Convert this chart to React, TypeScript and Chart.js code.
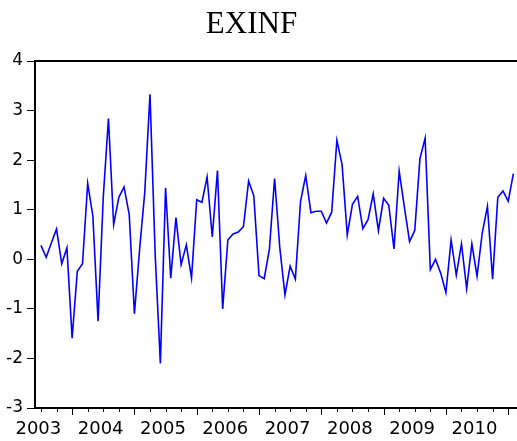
import React, { useEffect, useRef } from 'react';
import { Chart, registerables } from 'chart.js';

Chart.register(...registerables);

const TITLE = 'EXINF';
// monthly observations, first = July 2003
const START_YEAR = 2003;
const START_MONTH = 7;
const YEAR_LABELS = ['2003', '2004', '2005', '2006', '2007', '2008', '2009', '2010'];
const Y_TICKS = [-3, -2, -1, 0, 1, 2, 3, 4];
const VALUES = [
  0.28, 0.04, 0.33, 0.61, -0.09, 0.23, -1.59, -0.24, -0.09, 1.53,
  0.87, -1.25, 1.25, 2.84, 0.70, 1.25, 1.46, 0.90, -1.10, 0.20,
  1.36, 3.33, 0.09, -2.10, 1.44, -0.38, 0.84, -0.11, 0.29, -0.38,
  1.20, 1.15, 1.66, 0.45, 1.79, -1.00, 0.39, 0.51, 0.55, 0.66,
  1.58, 1.28, -0.33, -0.39, 0.20, 1.63, 0.24, -0.72, -0.14, -0.40,
  1.17, 1.69, 0.94, 0.97, 0.97, 0.73, 0.95, 2.40, 1.91, 0.49,
  1.11, 1.27, 0.62, 0.80, 1.32, 0.58, 1.23, 1.09, 0.21, 1.78,
  1.05, 0.36, 0.58, 2.03, 2.44, -0.21, 0.00, -0.28, -0.67, 0.39,
  -0.32, 0.31, -0.59, 0.31, -0.34, 0.53, 1.07, -0.40, 1.25, 1.38,
  1.17, 1.73,
];

const janIndex = (year: number) => (year - START_YEAR) * 12 - (START_MONTH - 1);
const monthOf = (i: number) => ((START_MONTH - 1 + i) % 12 + 12) % 12 + 1;
const LABEL_POS = YEAR_LABELS.map((y) => janIndex(Number(y)) + 5.5);

const framePlugin = {
  id: 'eviewsFrame',
  afterDraw(chart: any) {
    const { ctx, chartArea, scales } = chart;
    const { left, top, right, bottom } = chartArea;
    const x = scales.x;
    ctx.save();
    ctx.strokeStyle = '#000';
    ctx.lineWidth = 1;
    for (let i = 0; i <= x.max; i += 3) {
      const px = Math.round(x.getPixelForValue(i)) + 0.5;
      if (px < left || px > right) continue;
      const major = monthOf(i) === 1;
      ctx.beginPath();
      ctx.moveTo(px, bottom);
      ctx.lineTo(px, bottom + (major ? 7 : 4));
      ctx.stroke();
    }
    ctx.lineWidth = 2;
    ctx.strokeRect(left, top, right - left, bottom - top);
    ctx.restore();
  },
};

export default function App() {
  const ref = useRef<HTMLCanvasElement>(null);
  useEffect(() => {
    if (!ref.current) return;
    const chart = new Chart(ref.current, {
      type: 'line',
      data: {
        datasets: [
          {
            label: TITLE,
            data: VALUES.map((v, i) => ({ x: i, y: v })),
            borderColor: '#0000ff',
            borderWidth: 1.6,
            pointRadius: 0,
            tension: 0,
            fill: false,
          },
        ],
      },
      options: {
        animation: false,
        responsive: false,
        maintainAspectRatio: false,
        layout: { padding: { top: 61, left: 0, right: 0, bottom: 0 } },
        plugins: {
          legend: { display: false },
          title: { display: false },
          tooltip: { enabled: false },
        },
        scales: {
          x: {
            type: 'linear',
            min: -1.15,
            max: 94.2,
            grid: { display: false, drawTicks: false },
            border: { display: false },
            afterBuildTicks: (scale: any) => {
              scale.ticks = LABEL_POS.map((v) => ({ value: v }));
            },
            afterFit: (scale: any) => {
              scale.height = 33;
            },
            ticks: {
              autoSkip: false,
              maxRotation: 0,
              padding: 11,
              color: '#000',
              font: { family: "'DejaVu Sans'", size: 18 },
              callback: (value: any) => {
                const k = LABEL_POS.findIndex((p) => Math.abs(p - Number(value)) < 1e-6);
                return k >= 0 ? YEAR_LABELS[k] : '';
              },
            },
          },
          y: {
            min: -3,
            max: 4,
            afterBuildTicks: (scale: any) => {
              scale.ticks = Y_TICKS.map((v) => ({ value: v }));
            },
            afterFit: (scale: any) => {
              scale.width = 35;
            },
            grid: {
              drawOnChartArea: false,
              drawTicks: true,
              tickLength: 8,
              color: '#000',
              tickColor: '#000',
            },
            border: { display: false },
            ticks: {
              padding: 4,
              color: '#000',
              font: { family: "'DejaVu Sans'", size: 17 },
            },
          },
        },
      },
      plugins: [framePlugin],
    });
    return () => chart.destroy();
  }, []);

  return (
    <div
      style={{
        position: 'absolute',
        left: 0,
        top: 0,
        width: 517,
        height: 441,
        overflow: 'hidden',
        background: '#fff',
      }}
    >
      <canvas ref={ref} width={530} height={441} style={{ display: 'block' }} />
      <div
        style={{
          position: 'absolute',
          left: 0,
          top: 7,
          width: 503,
          textAlign: 'center',
          fontFamily: "'Liberation Serif', 'Times New Roman', serif",
          fontSize: 31,
          lineHeight: '31px',
          color: '#000',
        }}
      >
        {TITLE}
      </div>
    </div>
  );
}
